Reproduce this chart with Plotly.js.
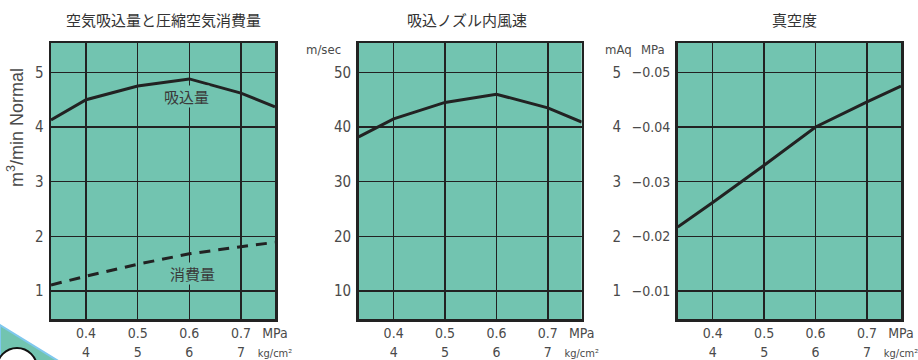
<!DOCTYPE html>
<html>
<head>
<meta charset="utf-8">
<script src="https://cdn.plot.ly/plotly-3.0.1.min.js"></script>
<style>
  html, body { margin: 0; padding: 0; background: #fff; }
  #myDiv { width: 918px; height: 360px; }
</style>
</head>
<body>
<div id="myDiv"></div>
<script>
// pressure (MPa) where each curve was read, edges are the plot borders
var pressure = [0.332, 0.4, 0.5, 0.6, 0.7, 0.766];
var suction = [4.13, 4.5, 4.75, 4.88, 4.62, 4.37];       // m3/min Normal
var consumption = [1.11, 1.27, 1.49, 1.68, 1.81, 1.89];  // m3/min Normal
var speed = [38.2, 41.5, 44.5, 46.0, 43.5, 40.9];        // m/sec
var vacuum = [2.17, 2.62, 3.3, 4.0, 4.46, 4.75];          // mAq

var xTickVals = [0.4, 0.5, 0.6, 0.7, 0.766];
var xTickText = ['0.4<br>4', '0.5<br>5', '0.6<br>6', '0.7<br>7',
  'MPa<br><span style="font-size:11px">kg/cm²</span>'];
var flowTicks = [1, 2, 3, 4, 5];
var speedTicks = [10, 20, 30, 40, 50];
var mAqTicks = [1, 2, 3, 4, 5];
var mpaText = ['−0.01', '−0.02', '−0.03', '−0.04', '−0.05'];

var W = 918, H = 360;
var teal = '#72C4B0';
var ink = '#222';
var txt = '#4a4a4a';
var narrow = '"Liberation Sans Narrow", "DejaVu Sans Condensed", "Arial Narrow", sans-serif';
var jp = '"Noto Sans CJK JP", "Noto Sans CJK SC", sans-serif';

function px(x) { return x / W; }
function py(y) { return 1 - y / H; }

var yDom = [py(319), py(43)];

function xAxis(dom, anchor) {
  return {
    domain: dom, anchor: anchor, range: [0.332, 0.766],
    tickvals: xTickVals, ticktext: xTickText, ticks: '',
    tickfont: { family: narrow, size: 14, color: txt },
    showgrid: true, gridcolor: ink, gridwidth: 1.5,
    showline: true, mirror: true, linecolor: ink, linewidth: 2.5,
    zeroline: false, ticklabelstandoff: 0, ticklabeloverflow: 'allow'
  };
}
function yAxis(anchor, range, vals, text) {
  return {
    domain: yDom, anchor: anchor, range: range,
    tickvals: vals, ticktext: text, ticks: '',
    tickfont: { family: narrow, size: 15, color: txt },
    showgrid: true, gridcolor: ink, gridwidth: 1.5,
    showline: true, mirror: true, linecolor: ink, linewidth: 2.5,
    zeroline: false, ticklabelstandoff: 2
  };
}

var traceSuction = {
  x: pressure, y: suction, xaxis: 'x', yaxis: 'y',
  mode: 'lines', type: 'scatter', hoverinfo: 'skip',
  line: { color: ink, width: 3 }
};
var traceConsumption = {
  x: pressure, y: consumption, xaxis: 'x', yaxis: 'y',
  mode: 'lines', type: 'scatter', hoverinfo: 'skip',
  line: { color: ink, width: 3, dash: '11px,8px' }
};
var traceSpeed = {
  x: pressure, y: speed, xaxis: 'x2', yaxis: 'y2',
  mode: 'lines', type: 'scatter', hoverinfo: 'skip',
  line: { color: ink, width: 3 }
};
var traceVacuum = {
  x: pressure, y: vacuum, xaxis: 'x3', yaxis: 'y3',
  mode: 'lines', type: 'scatter', hoverinfo: 'skip',
  line: { color: ink, width: 3 }
};
// same vacuum curve on the mAq scale, not drawn, it only makes the second axis exist
var traceVacuumMAq = {
  x: pressure, y: vacuum, xaxis: 'x3', yaxis: 'y4',
  mode: 'none', type: 'scatter', hoverinfo: 'skip'
};

var yaxis3 = yAxis('x3', [0.487, 5.537], mAqTicks, mpaText);
yaxis3.tickfont = { family: narrow, size: 14, color: txt };

var y4 = yAxis('free', [0.487, 5.537], mAqTicks, mAqTicks.map(String));
y4.overlaying = 'y3';
y4.side = 'left';
y4.position = px(621);
y4.showgrid = false;
y4.showline = false;
y4.mirror = false;
y4.ticklabelstandoff = 0;

var titleFont = { family: jp, size: 15, color: '#333' };
var unitFont = { family: narrow, size: 13, color: txt };

function label(x, y, text, font, extra) {
  var a = { xref: 'paper', yref: 'paper', x: px(x), y: py(y), text: text,
    xanchor: 'center', yanchor: 'middle', showarrow: false, font: font };
  for (var k in extra) a[k] = extra[k];
  return a;
}

var layout = {
  width: W, height: H,
  margin: { l: 0, r: 0, t: 0, b: 0 },
  paper_bgcolor: '#fff',
  plot_bgcolor: teal,
  showlegend: false,
  xaxis: xAxis([px(51), px(275)], 'y'),
  xaxis2: xAxis([px(358.7), px(581.7)], 'y2'),
  xaxis3: xAxis([px(677.7), px(901)], 'y3'),
  yaxis: yAxis('x', [0.487, 5.537], flowTicks, flowTicks.map(String)),
  yaxis2: yAxis('x2', [4.87, 55.37], speedTicks, speedTicks.map(String)),
  yaxis3: yaxis3,
  yaxis4: y4,
  annotations: [
    label(163, 19, '空気吸込量と圧縮空気消費量', titleFont),
    label(467, 19, '吸込ノズル内風速', titleFont),
    label(794, 19, '真空度', titleFont),
    label(15, 128, 'm<sup>3</sup>/min Normal', { family: '"Liberation Sans", Arial, sans-serif', size: 18, color: txt }, { textangle: -90 }),
    label(343, 50, 'm/sec', unitFont, { xanchor: 'right' }),
    label(618, 50, 'mAq', unitFont),
    label(653, 50, 'MPa', unitFont),
    { xref: 'x', yref: 'y', x: 0.594, y: 4.55, text: '吸込量', showarrow: false,
      xanchor: 'center', yanchor: 'middle',
      bgcolor: teal, borderpad: 0, font: { family: jp, size: 15, color: '#3a3a3a' } },
    { xref: 'x', yref: 'y', x: 0.607, y: 1.32, text: '消費量', showarrow: false,
      xanchor: 'center', yanchor: 'middle',
      bgcolor: teal, borderpad: 0, font: { family: jp, size: 15, color: '#3a3a3a' } }
  ],
  shapes: [
    // corner of a neighbouring illustration
    { type: 'path', xref: 'paper', yref: 'paper', layer: 'below',
      path: 'M ' + px(0) + ',' + py(325) + ' L ' + px(60) + ',' + py(362) + ' L ' + px(0) + ',' + py(362) + ' Z',
      fillcolor: teal, line: { color: '#7fc8ee', width: 2 } },
    { type: 'circle', xref: 'paper', yref: 'paper', layer: 'below',
      x0: px(-3), x1: px(37), y0: py(388), y1: py(348),
      fillcolor: '#fff', line: { color: '#111', width: 2 } }
  ]
};

var data = [traceSuction, traceConsumption, traceSpeed, traceVacuum, traceVacuumMAq];
Plotly.newPlot('myDiv', data, layout, { displayModeBar: false, staticPlot: true });
</script>
</body>
</html>
